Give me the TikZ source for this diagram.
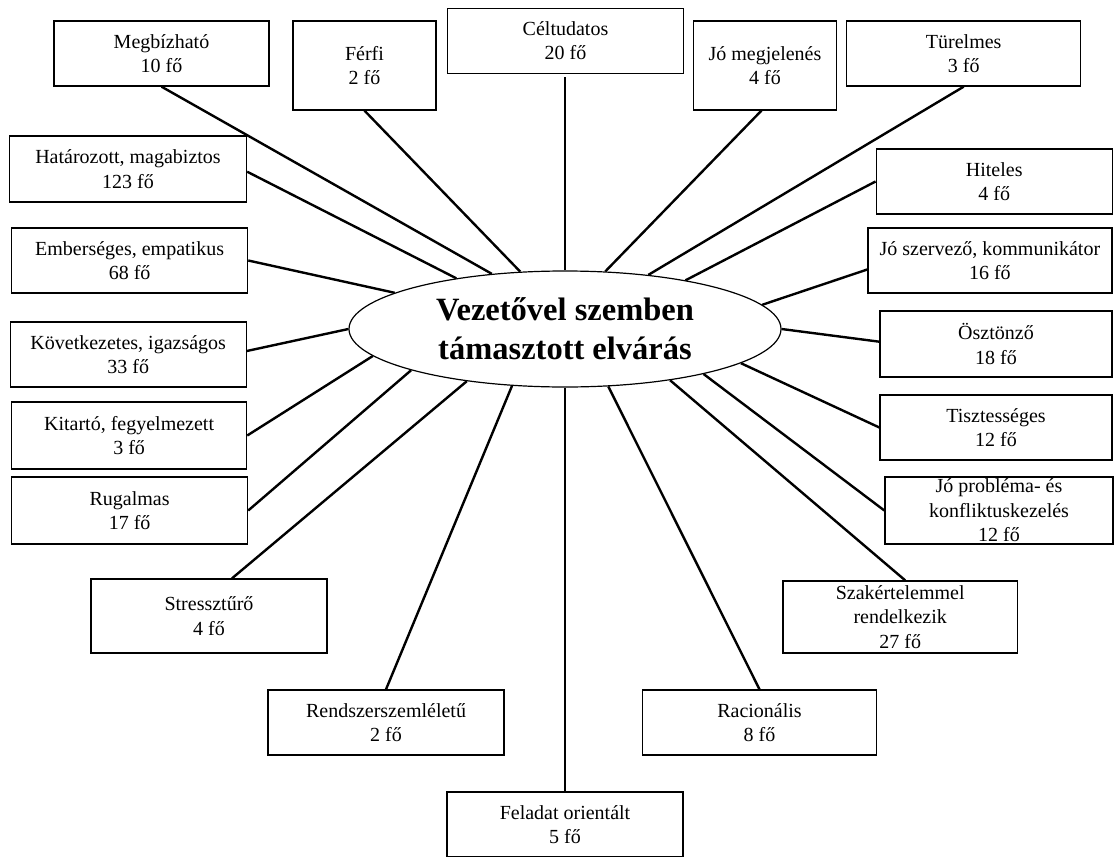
\documentclass[tikz,border=0pt]{standalone}
\usepackage{fontspec}
\setmainfont{Liberation Serif}
\usetikzlibrary{shapes.geometric}
\tikzset{
  box/.style={draw, line width=1.3pt, inner sep=0pt, align=center, font=\fontsize{20}{24.5}\selectfont},
  conn/.style={line width=2.4pt},
  hub/.style={draw, ellipse, line width=1.2pt, inner sep=0pt, minimum width=432pt, minimum height=116pt, align=center, font=\fontsize{32.5}{39}\selectfont\bfseries}
}
\begin{document}
\begin{tikzpicture}[x=1pt,y=-1pt]
\useasboundingbox (0,0) rectangle (1115,856);
\node[hub] (e) at (565,329) {Vezetővel szemben\\támasztott elvárás};
\node[box, minimum width=215pt, minimum height=65pt] (mb) at (161.5,53.5) {Megbízható\\10 fő};
\node[box, minimum width=143pt, minimum height=89pt] (ff) at (364.5,65.5) {Férfi\\2 fő};
\node[box, minimum width=236pt, minimum height=65pt] (ct) at (565.5,40.8) {Céltudatos\\20 fő};
\node[box, minimum width=143pt, minimum height=89pt] (jm) at (765,65.5) {Jó megjelenés\\4 fő};
\node[box, minimum width=234pt, minimum height=65pt] (tu) at (963.7,53.5) {Türelmes\\3 fő};
\node[box, minimum width=237pt, minimum height=66pt] (ha) at (128,169) {Határozott, magabiztos\\123 fő};
\node[box, minimum width=236pt, minimum height=65pt] (hi) at (994.2,181.5) {Hiteles\\4 fő};
\node[box, minimum width=236pt, minimum height=65pt] (em) at (129.6,260.5) {Emberséges, empatikus\\68 fő};
\node[box, minimum width=244pt, minimum height=65pt] (js) at (989.9,260.5) {Jó szervező, kommunikátor\\16 fő};
\node[box, minimum width=236pt, minimum height=65pt] (ko) at (128.2,354.5) {Következetes, igazságos\\33 fő};
\node[box, minimum width=232pt, minimum height=66pt] (os) at (996,344) {Ösztönző\\18 fő};
\node[box, minimum width=235pt, minimum height=67pt] (ki) at (129.1,435.5) {Kitartó, fegyelmezett\\3 fő};
\node[box, minimum width=232pt, minimum height=65pt] (ti) at (996,427.5) {Tisztességes\\12 fő};
\node[box, minimum width=236pt, minimum height=67pt] (ru) at (129.6,510.5) {Rugalmas\\17 fő};
\node[box, minimum width=228pt, minimum height=67pt] (jp) at (999,510.5) {Jó probléma- és\\konfliktuskezelés\\12 fő};
\node[box, minimum width=236pt, minimum height=74pt] (st) at (209,616) {Stressztűrő\\4 fő};
\node[box, minimum width=234.6pt, minimum height=72pt] (sz) at (900.2,617) {Szakértelemmel\\rendelkezik\\27 fő};
\node[box, minimum width=236pt, minimum height=65pt] (re) at (386,722.5) {Rendszerszemléletű\\2 fő};
\node[box, minimum width=234pt, minimum height=65pt] (ra) at (759.5,722.5) {Racionális\\8 fő};
\node[box, minimum width=236pt, minimum height=65pt] (fe) at (565,824.5) {Feladat orientált\\5 fő};
\draw[conn] (mb.south) -- (e.143.2);
\draw[conn] (ff.south) -- (e.128.6);
\draw[conn] ([yshift=-2.7pt]ha.east) -- (e.155.6);
\draw[conn] (em.east) -- (e.168.3);
\draw[conn, shorten <=3.5pt] ([xshift=-0.5pt]ct.south) -- (e.north);
\draw[conn] ([xshift=-3.6pt]jm.south) -- (e.55.9);
\draw[conn] (tu.south) -- (e.33.7);
\draw[conn] (hi.west) -- (e.22.6);
\draw[conn] ([yshift=-9pt]js.west) -- (e.7.3);
\draw[conn] ([yshift=2.3pt]os.west) -- (e.0);
\draw[conn] (ti.west) -- (e.349);
\draw[conn] (jp.west) -- (e.342.5);
\draw[conn] ([xshift=5pt]sz.north) -- (e.334.7);
\draw[conn] (ra.north) -- (e.307.5);
\draw[conn] (fe.north) -- (e.south);
\draw[conn] (re.north) -- (e.227.5);
\draw[conn] ([xshift=23pt]st.north) -- (e.208.7);
\draw[conn] (ru.east) -- (e.195.4);
\draw[conn] (ki.east) -- (e.188.7);
\draw[conn] ([yshift=3.5pt]ko.east) -- (e.180);
\end{tikzpicture}
\end{document}
